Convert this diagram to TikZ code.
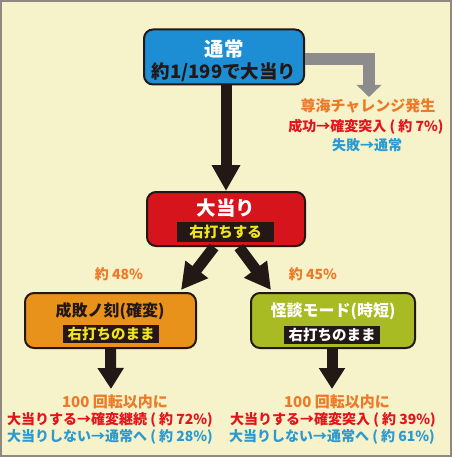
\documentclass[tikz,border=0pt]{standalone}
\usepackage{fontspec}
\setmainfont{Noto Sans CJK JP}
\usetikzlibrary{arrows.meta,calc}
\definecolor{bgc}{HTML}{F6F2CA}
\definecolor{framec}{HTML}{8F8883}
\definecolor{boxblue}{HTML}{1E8ED4}
\definecolor{boxred}{HTML}{D6141C}
\definecolor{boxorange}{HTML}{E8921B}
\definecolor{boxgreen}{HTML}{A8BB22}
\definecolor{txtorange}{HTML}{EC7A27}
\definecolor{txtred}{HTML}{E2141C}
\definecolor{txtblue}{HTML}{2C9AD1}
\definecolor{txtyellow}{HTML}{F0E41E}
\definecolor{arrgray}{HTML}{8C8C8C}
\definecolor{ink}{HTML}{231815}
\tikzset{
  box/.style={draw=ink, line width=2pt, rounded corners=9pt, minimum height=55pt, inner sep=0pt},
  lbl/.style={fill=ink, inner sep=0pt, minimum height=20pt, font=\bfseries\fontsize{14.5}{16}\selectfont},
  txt/.style={inner sep=0pt, font=\bfseries\fontsize{14}{16}\selectfont},
  ttl/.style={inner sep=0pt, font=\bfseries\fontsize{19.5}{22}\selectfont},
  bigarrow/.style={draw=ink, line width=11pt, -{Triangle[length=26pt,width=27pt]}},
  downarrow/.style={draw=ink, line width=11pt, -{Triangle[length=21pt,width=25pt]}},
  grayarrow/.style={draw=arrgray, line width=12pt, -{Triangle[length=12pt,width=24pt]}},
}
\begin{document}
\begin{tikzpicture}[x=1pt,y=-1pt]
\fill[framec] (0,0) rectangle (452,457);
\fill[bgc] (2,2) rectangle (450,455);
\useasboundingbox (0,0) rectangle (452,457);

% boxes
\node[box, fill=boxblue, minimum width=160pt, minimum height=55pt] (top) at (224,57) {};
\node[box, fill=boxred, minimum width=158pt, minimum height=54pt] (hit) at (226,219) {};
\node[box, fill=boxorange, minimum width=171pt] (kaku) at (110.5,320.5) {};
\node[box, fill=boxgreen, minimum width=164pt] (jitan) at (333,320.5) {};

% texts in boxes
\node[ttl, text=white] (topt) at (224,49) {通常};
\node[inner sep=0pt, font=\bfseries\fontsize{18.5}{20}\selectfont, text=ink] (tops) at (224,72) {約1/199で大当り};
\node[ttl, text=white] (hitt) at (226,208) {大当り};
\node[lbl, text=txtyellow, minimum width=97pt] (hitl) at (225.5,231.5) {右打ちする};
\node[inner sep=0pt, font=\bfseries\fontsize{16}{18}\selectfont, text=ink] (kakut) at (110,311) {成敗ノ刻(確変)};
\node[lbl, text=txtyellow, minimum width=96pt, minimum height=18pt] (kakul) at (111,334) {右打ちのまま};
\node[inner sep=0pt, font=\bfseries\fontsize{16}{18}\selectfont, text=white] (jitant) at (333,311) {怪談モード(時短)};
\node[lbl, text=white, minimum width=96pt, minimum height=18pt] (jitanl) at (332,335) {右打ちのまま};

% side texts
\node[txt, text=txtorange, font=\bfseries\fontsize{15}{17}\selectfont] (chal) at (368,106) {尊海チャレンジ発生};
\node[txt, text=txtred] (chal1) at (366,127) {成功→確変突入 ( 約 7\%)};
\node[txt, text=txtblue] (chal2) at (367,145) {失敗→通常};
\node[txt, text=txtorange] (p48) at (119,274) {約 48\%};
\node[txt, text=txtorange] (p45) at (313,274) {約 45\%};
\node[txt, text=txtorange, font=\bfseries\fontsize{15}{17}\selectfont] (cond1) at (115,402) {100 回転以内に};
\node[txt, text=txtred] (l1) at (110,420) {大当りする→確変継続 ( 約 72\%)};
\node[txt, text=txtblue] (l2) at (110,437) {大当りしない→通常へ ( 約 28\%)};
\node[txt, text=txtorange, font=\bfseries\fontsize{15}{17}\selectfont] (cond2) at (337,402) {100 回転以内に};
\node[txt, text=txtred] (r1) at (333,420) {大当りする→確変突入 ( 約 39\%)};
\node[txt, text=txtblue] (r2) at (332,437) {大当りしない→通常へ ( 約 61\%)};

% connectors
\coordinate (gtip) at (369,97);
\draw[grayarrow] ($(top.east)+(0,2)$) -| (gtip);
\draw[bigarrow] (top.south -| hit.north) -- (hit.north);
\draw[bigarrow] ($(hit.south)+(-12,0)$) -- ($(kaku.north east)+(-16,-2)$);
\draw[bigarrow] ($(hit.south)+(13,0)$) -- ($(jitan.north west)+(21,-2)$);
\coordinate (t1) at (111,389);
\coordinate (t2) at (332,389);
\draw[downarrow] (kaku.south) -- (t1);
\draw[downarrow] (jitan.south -| t2) -- (t2);
\end{tikzpicture}
\end{document}
